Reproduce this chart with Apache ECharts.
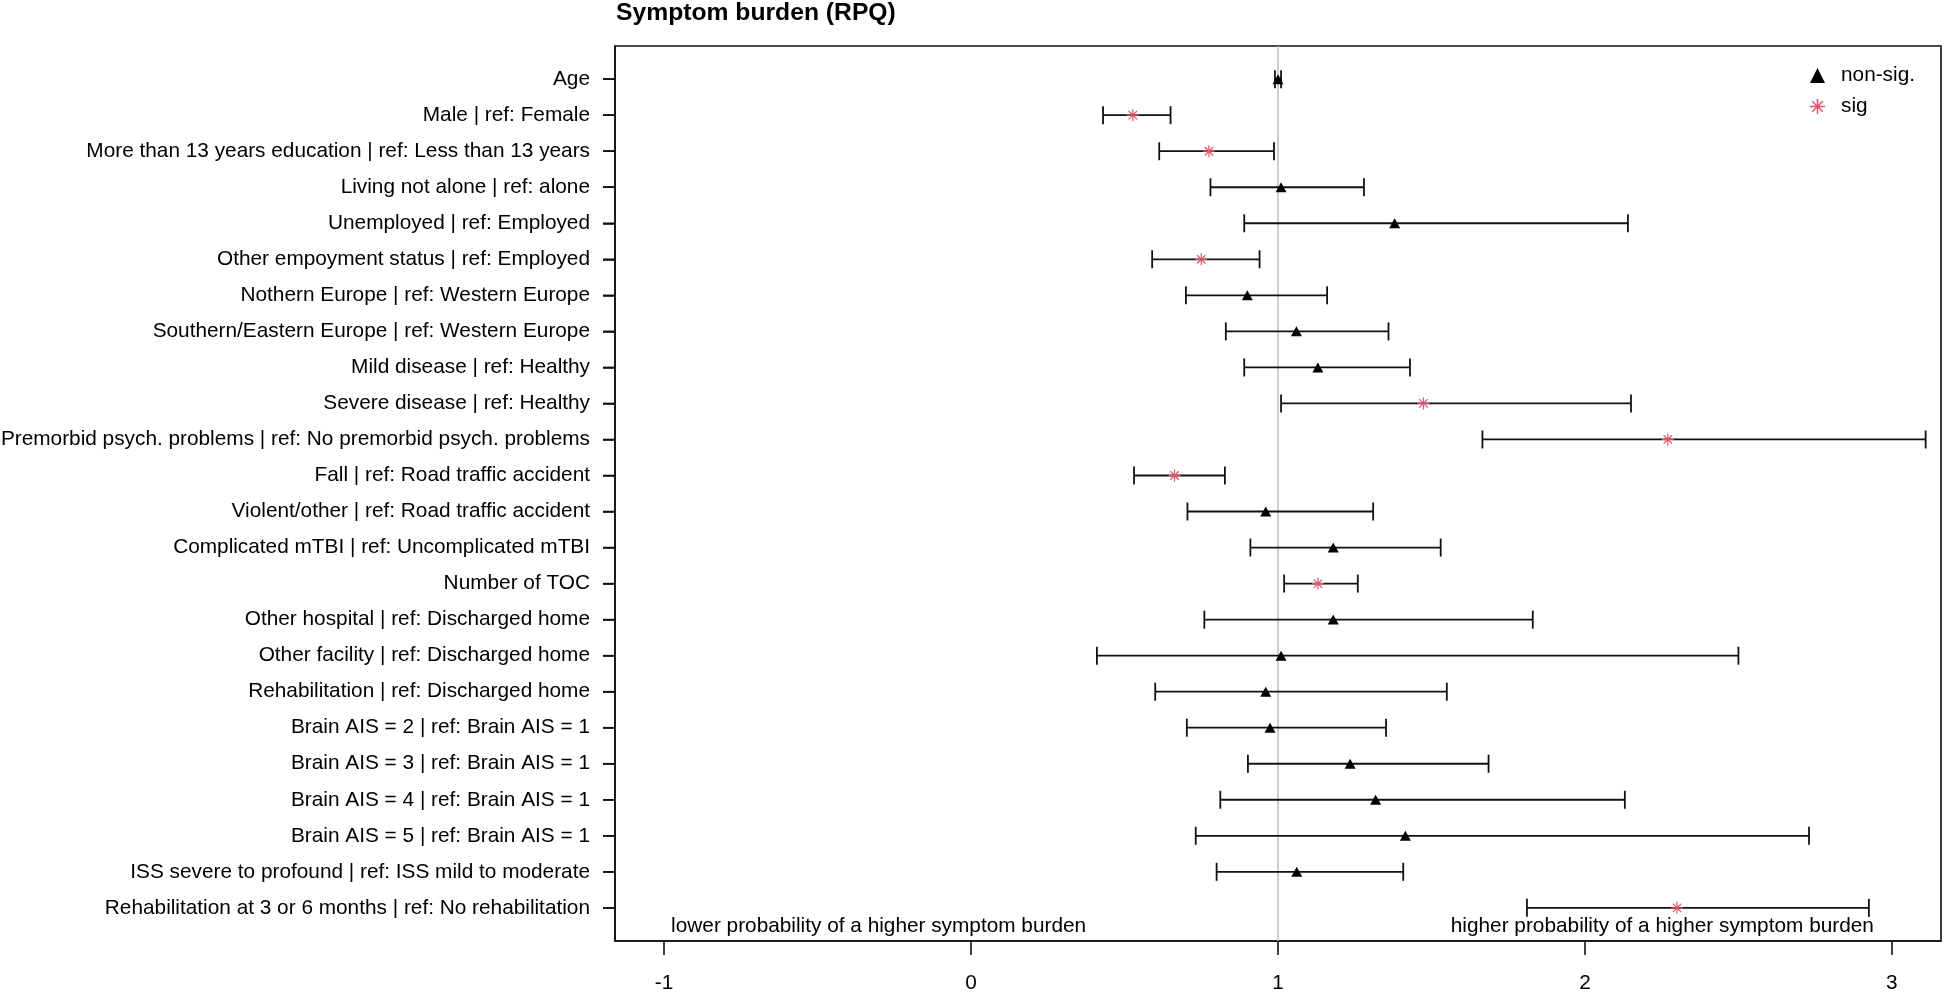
<!DOCTYPE html>
<html>
<head>
<meta charset="utf-8">
<script src="https://cdn.jsdelivr.net/npm/echarts@6/dist/echarts.min.js"></script>
<style>
html,body{margin:0;padding:0;background:#fff;}
#chart{width:1944px;height:992px;}
</style>
</head>
<body>
<div id="chart"></div>
<script>
// ---- data (top row first) ----
const labels = [
  "Age",
  "Male | ref: Female",
  "More than 13 years education | ref: Less than 13 years",
  "Living not alone | ref: alone",
  "Unemployed | ref: Employed",
  "Other empoyment status | ref: Employed",
  "Nothern Europe | ref: Western Europe",
  "Southern/Eastern Europe | ref: Western Europe",
  "Mild disease | ref: Healthy",
  "Severe disease | ref: Healthy",
  "Premorbid psych. problems | ref: No premorbid psych. problems",
  "Fall | ref: Road traffic accident",
  "Violent/other | ref: Road traffic accident",
  "Complicated mTBI | ref: Uncomplicated mTBI",
  "Number of TOC",
  "Other hospital | ref: Discharged home",
  "Other facility | ref: Discharged home",
  "Rehabilitation | ref: Discharged home",
  "Brain AIS = 2 | ref: Brain AIS = 1",
  "Brain AIS = 3 | ref: Brain AIS = 1",
  "Brain AIS = 4 | ref: Brain AIS = 1",
  "Brain AIS = 5 | ref: Brain AIS = 1",
  "ISS severe to profound | ref: ISS mild to moderate",
  "Rehabilitation at 3 or 6 months | ref: No rehabilitation"
];
const estimate = [1.00, 0.527, 0.775, 1.01, 1.38, 0.75, 0.90, 1.06, 1.13, 1.474, 2.27, 0.663,
                  0.96, 1.18, 1.13, 1.18, 1.01, 0.96, 0.974, 1.235, 1.318, 1.415, 1.061, 2.30];
const lower    = [0.99, 0.43, 0.613, 0.78, 0.89, 0.59, 0.70, 0.83, 0.89, 1.01, 1.666, 0.531,
                  0.705, 0.91, 1.02, 0.76, 0.41, 0.60, 0.703, 0.902, 0.812, 0.732, 0.80, 1.811];
const upper    = [1.01, 0.65, 0.987, 1.28, 2.14, 0.94, 1.16, 1.36, 1.43, 2.15, 3.11, 0.827,
                  1.31, 1.53, 1.26, 1.83, 2.50, 1.55, 1.352, 1.686, 2.13, 2.73, 1.408, 2.925];
const significant = [0,1,1,0,0,1,0,0,0,1,1,1,0,0,1,0,0,0,0,0,0,0,0,1];
const xTicks = [-1, 0, 1, 2, 3];
const xRange = [-1.16, 3.16];
const refValue = 1;
const legendNames = ["non-sig.", "sig"];
const titleText = "Symptom burden (RPQ)";
const noteLeft = "lower probability of a higher symptom burden";
const noteRight = "higher probability of a higher symptom burden";

// ---- build ----
const n = labels.length;
const rowY = labels.map((_, i) => n - i);
const barData = labels.map((_, i) => [lower[i], upper[i], rowY[i]]);
const nonSigData = [], sigData = [];
labels.forEach((_, i) => {
  (significant[i] ? sigData : nonSigData).push([estimate[i], rowY[i]]);
});
const FONT = "'Liberation Sans', Arial, Helvetica, sans-serif";
const FS = 20.8;
const starPath = 'path://M-10,-1L10,-1L10,1L-10,1Z M-1,-10L1,-10L1,10L-1,10Z ' +
  'M-6.364,-7.778L7.778,6.364L6.364,7.778L-7.778,-6.364Z ' +
  'M-7.778,6.364L6.364,-7.778L7.778,-6.364L-6.364,7.778Z';
const SIG_COLOR = '#DF536B';
const INK = '#111111';

const chart = echarts.init(document.getElementById('chart'));
chart.setOption({
  animation: false,
  backgroundColor: '#ffffff',
  textStyle: {fontFamily: FONT},
  title: {
    text: titleText, left: 616, top: 1, padding: 0,
    textStyle: {fontFamily: FONT, fontSize: 24.7, fontWeight: 'bold', color: '#000'}
  },
  legend: {
    orient: 'vertical', left: 1810, top: 65, padding: 0,
    itemWidth: 15, itemHeight: 15, itemGap: 10,
    data: legendNames,
    textStyle: {fontFamily: FONT, fontSize: FS, color: '#000', padding: [0, 0, 0, 11]}
  },
  grid: {
    left: 615, right: 3, top: 46, bottom: 51, outerBoundsMode: 'none',
    show: true, borderColor: INK, borderWidth: 1.6, backgroundColor: 'transparent'
  },
  xAxis: {
    type: 'value', min: xRange[0], max: xRange[1], position: 'bottom',
    axisLine: {show: true, onZero: false, lineStyle: {color: INK, width: 1.6}},
    splitLine: {show: false},
    axisTick: {show: true, length: 14, lineStyle: {color: INK, width: 1.6}, customValues: xTicks},
    axisLabel: {show: true, margin: 32, fontFamily: FONT, fontSize: FS, color: '#000',
                customValues: xTicks, formatter: v => String(v)}
  },
  yAxis: {
    type: 'value', min: 0.08, max: n + 0.92, position: 'left',
    axisLine: {show: true, onZero: false, lineStyle: {color: INK, width: 1.6}},
    splitLine: {show: false},
    axisTick: {show: true, length: 12, lineStyle: {color: INK, width: 1.6}, customValues: rowY},
    axisLabel: {show: true, margin: 25, fontFamily: FONT, fontSize: FS, color: '#000',
                customValues: rowY, formatter: v => labels[n - Math.round(v)] || ''}
  },
  series: [
    {
      type: 'custom', name: 'ci',
      data: barData,
      encode: {x: [0, 1], y: 2},
      z: 2,
      renderItem: function (params, api) {
        const p1 = api.coord([api.value(0), api.value(2)]);
        const p2 = api.coord([api.value(1), api.value(2)]);
        const h = 9;
        const st = {stroke: INK, lineWidth: 1.8};
        return {
          type: 'group',
          children: [
            {type: 'line', shape: {x1: p1[0], y1: p1[1], x2: p2[0], y2: p2[1]}, style: st},
            {type: 'line', shape: {x1: p1[0], y1: p1[1] - h, x2: p1[0], y2: p1[1] + h}, style: st},
            {type: 'line', shape: {x1: p2[0], y1: p2[1] - h, x2: p2[0], y2: p2[1] + h}, style: st}
          ]
        };
      },
      markLine: {
        silent: true, symbol: 'none', label: {show: false},
        lineStyle: {color: '#BEBEBE', width: 1.5, type: 'solid'},
        data: [{xAxis: refValue}],
        z: 1
      }
    },
    {
      type: 'scatter', name: legendNames[0],
      data: nonSigData, symbol: 'triangle', symbolSize: [11, 10],
      itemStyle: {color: '#000', opacity: 1}, z: 3
    },
    {
      type: 'scatter', name: legendNames[1],
      data: sigData, symbol: starPath, symbolSize: 12,
      itemStyle: {color: SIG_COLOR, opacity: 1}, z: 3
    },
    {
      type: 'scatter', name: 'notes', silent: true,
      data: [
        {value: [-1, 0.5], label: {position: 'right', distance: 7, formatter: noteLeft}},
        {value: [3, 0.5], label: {position: 'left', distance: 18, formatter: noteRight}}
      ],
      symbolSize: 0,
      itemStyle: {opacity: 1},
      label: {show: true, fontFamily: FONT, fontSize: FS, color: '#000'},
      z: 4
    },
    {
      // row tick marks on the left frame, positioned through the axes
      type: 'custom', name: 'rowTicks', clip: false, z: 10,
      data: rowY.map(y => [xRange[0], y]),
      encode: {x: 0, y: 1},
      renderItem: function (params, api) {
        const c = api.coord([api.value(0), api.value(1)]);
        return {
          type: 'line',
          shape: {x1: c[0] - 12, y1: c[1], x2: c[0], y2: c[1]},
          style: {stroke: INK, lineWidth: 1.6}
        };
      }
    }
  ]
});
</script>
</body>
</html>
